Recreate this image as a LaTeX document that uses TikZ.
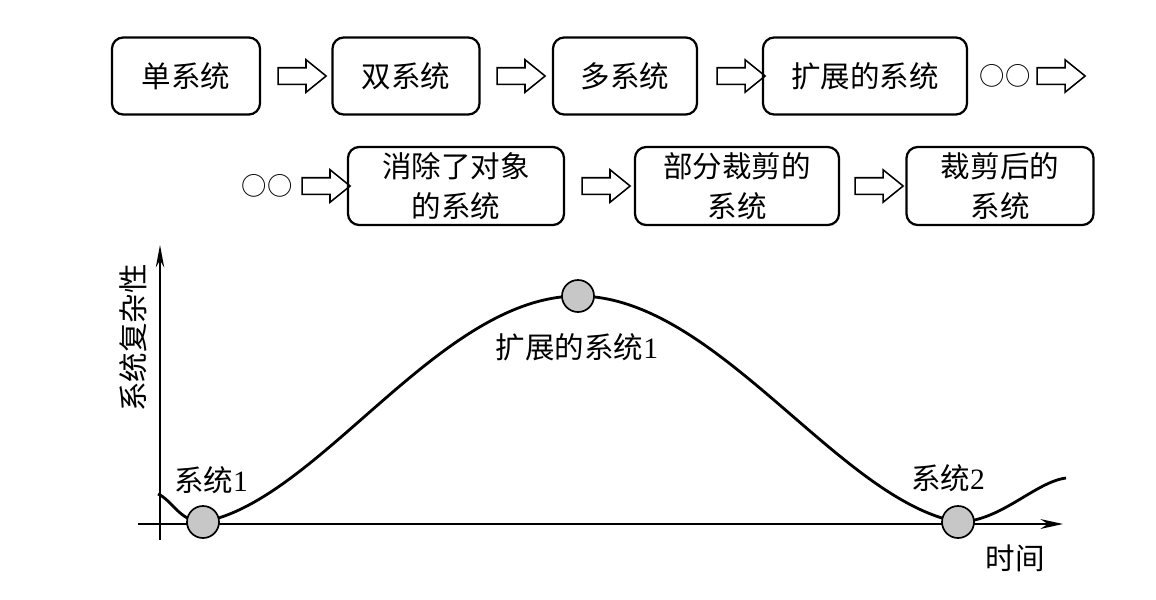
\documentclass[tikz,border=0pt]{standalone}
\usepackage{fontspec}
\setmainfont{Liberation Serif}
\newfontfamily\cjk{Noto Sans CJK SC}
\usetikzlibrary{shapes.arrows,arrows.meta}
\begin{document}
\begin{tikzpicture}[x=0.025cm,y=-0.025cm]
    \tikzstyle{every node}+=[font=\cjk\fontsize{21}{28}\selectfont]
    \tikzstyle{stage}=[draw=black,line width=1.6pt,rounded corners=8pt,align=center,inner sep=0pt]
    \tikzstyle{fat}=[draw=black,line width=1.1pt,single arrow,single arrow head extend=0.2cm,single arrow tip angle=78,inner sep=0.1875cm,minimum height=1.2cm]
    \tikzstyle{dot}=[draw=black,line width=1.2pt,fill=black!22,circle,inner sep=0pt,minimum size=0.8cm]
    \tikzstyle{more}=[font=\cjk\fontsize{18}{20}\selectfont,inner sep=0pt]
    \useasboundingbox (0,0) rectangle (1156,599);
    \node[stage,minimum width=3.7cm,minimum height=1.925cm] (s1) at (186,76) {单系统};
    \node[stage,minimum width=3.675cm,minimum height=1.925cm] (s2) at (406,76) {双系统};
    \node[stage,minimum width=3.6cm,minimum height=1.925cm] (s3) at (625,76) {多系统};
    \node[stage,minimum width=5.1cm,minimum height=1.925cm] (s4) at (865,76) {扩展的系统};
    \node[fat] (a1) at (297,76) {};
    \node[fat] (a2) at (516,76) {};
    \node[fat] (a3) at (736,76) {};
    \node[more] (m1) at (1005,76) {○○};
    \node[fat] (a4) at (1056,76) {};
    \node[more] (m2) at (267,186) {○○};
    \node[fat] (a5) at (321,186) {};
    \node[stage,minimum width=5.4cm,minimum height=1.95cm] (s5) at (456,186) {消除了对象\\的系统};
    \node[fat] (a6) at (601,186) {};
    \node[stage,minimum width=5.1cm,minimum height=1.95cm] (s6) at (737,186) {部分裁剪的\\系统};
    \node[fat] (a7) at (874,186) {};
    \node[stage,minimum width=4.675cm,minimum height=1.95cm] (s7) at (1000,186) {裁剪后的\\系统};
    \coordinate (y0) at (160,540);
    \coordinate (y1) at (160,245);
    \coordinate (x0) at (138,524);
    \coordinate (x1) at (1063,524);
    \draw[line width=1.2pt,-{Stealth[length=16pt,width=6pt]}] (y0) -- (y1);
    \draw[line width=1.2pt,-{Stealth[length=16pt,width=7pt]}] (x0) -- (x1);
    \node[rotate=90] (yl) at (133,338) {系统复杂性};
    \node (xl) at (1015,558) {时间};
    \coordinate (c0) at (158,494);
    \coordinate (k1) at (203,522);
    \coordinate (k2) at (578,296);
    \coordinate (k3) at (958,522);
    \coordinate (c1) at (1066,478);
    \draw[line width=2pt] (c0) .. controls (172,500) and (180,522) .. (k1)
        .. controls (320,500) and (440,296) .. (k2)
        .. controls (716,296) and (838,500) .. (k3)
        .. controls (1000,522) and (1035,482) .. (c1);
    \node[dot] (d1) at (k1) {};
    \node[dot] (d2) at (k2) {};
    \node[dot] (d3) at (k3) {};
    \node (l1) at (211,480) {系统{\rmfamily 1}};
    \node (l2) at (577,347) {扩展的系统{\rmfamily 1}};
    \node (l3) at (948,478) {系统{\rmfamily 2}};
\end{tikzpicture}
\end{document}
